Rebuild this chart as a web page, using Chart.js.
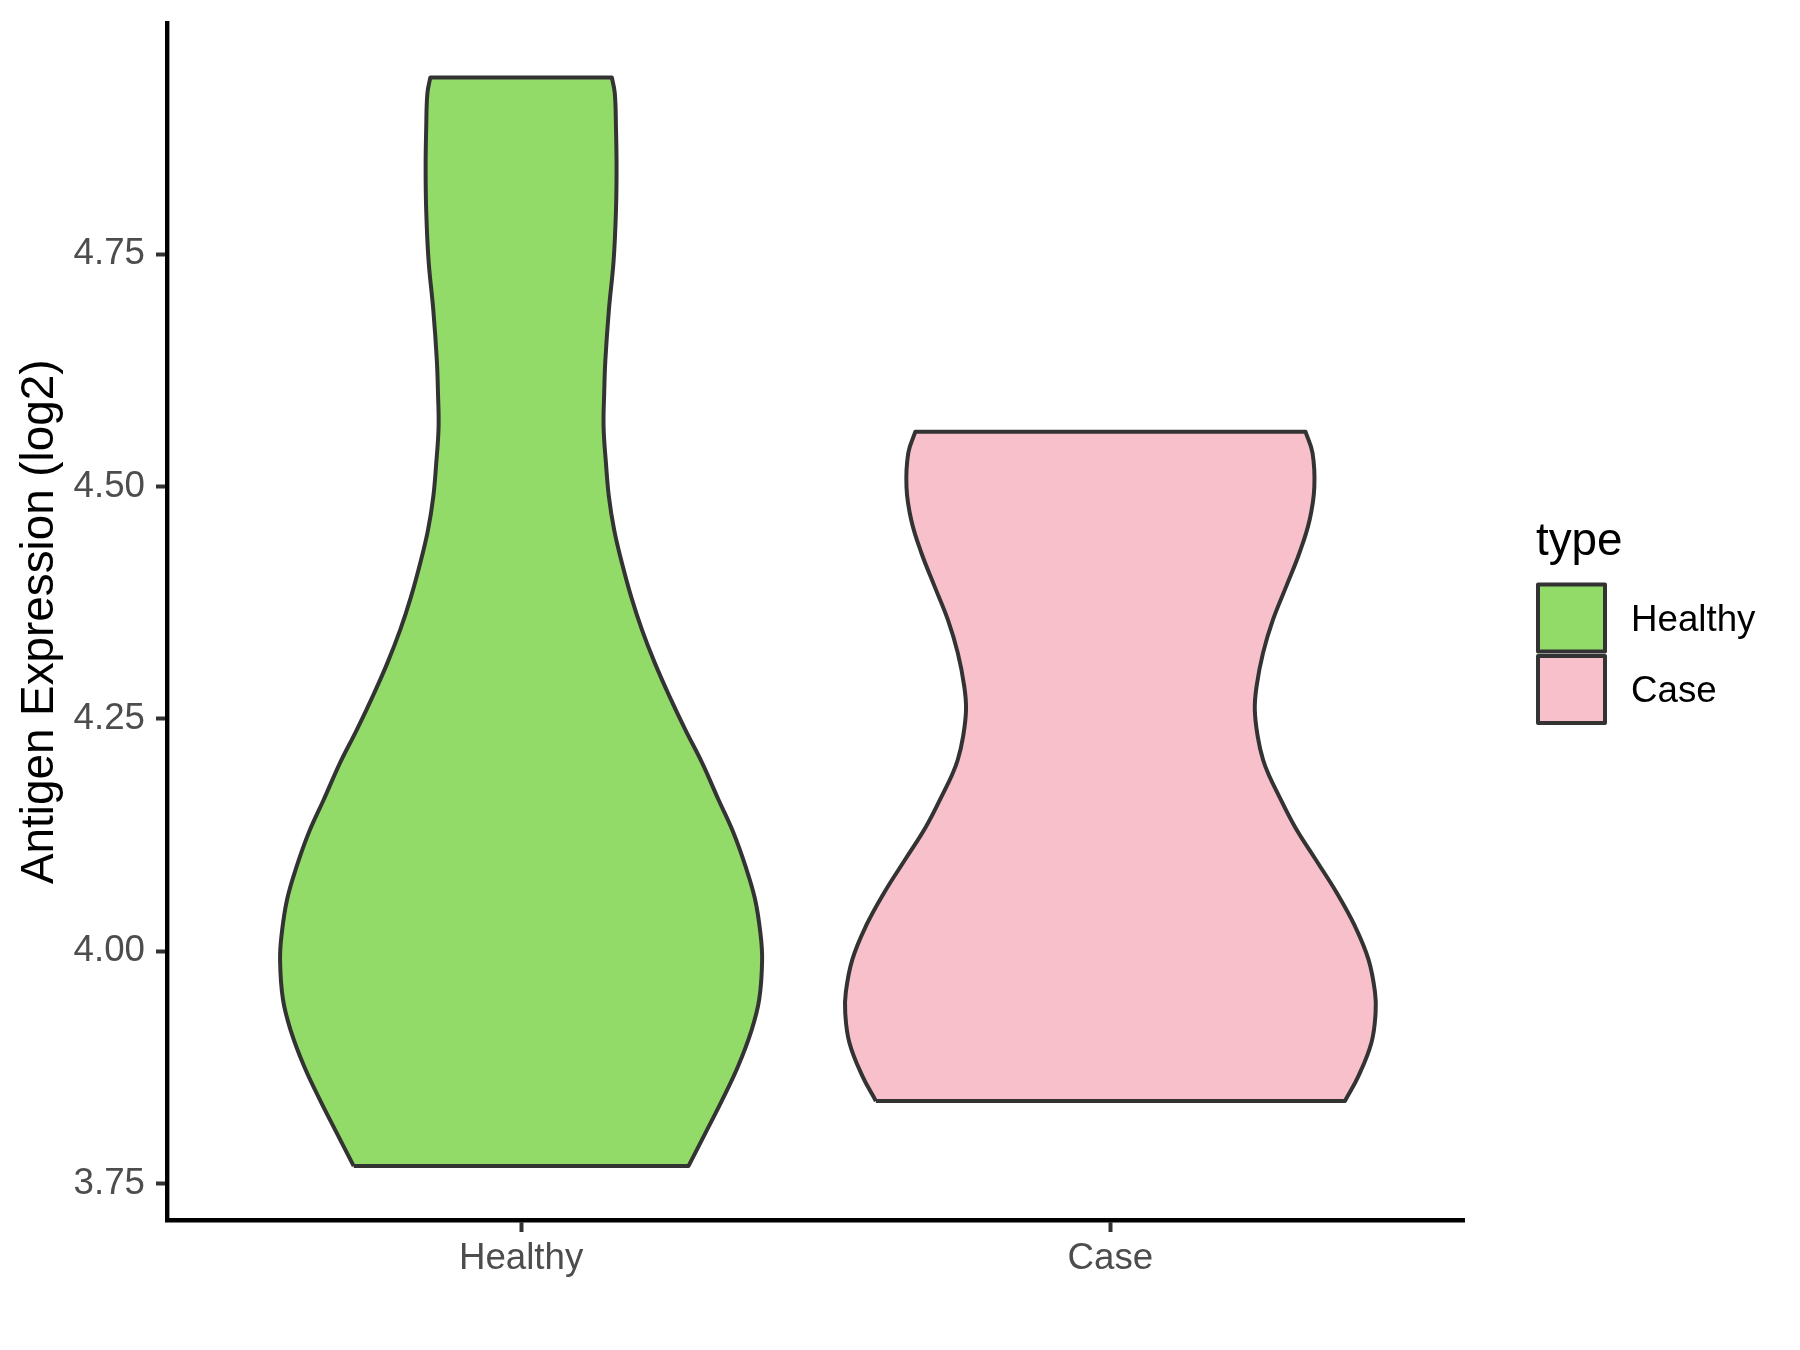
<!DOCTYPE html>
<html>
<head>
<meta charset="utf-8">
<title>Antigen Expression violin</title>
<script src="https://cdn.jsdelivr.net/npm/chart.js@4.4.0/dist/chart.umd.min.js"></script>
<style>
  body { margin: 0; background: #ffffff; }
  canvas { display: block; }
</style>
</head>
<body>
<canvas id="violinChart" width="1800" height="1350"></canvas>
<script>
// categories + colours
var categories = ['Healthy', 'Case'];
var fillColors = ['#93DB69', '#F7C0CB'];
var yTicks = [3.75, 4.00, 4.25, 4.50, 4.75];

// violin outlines: expression level and half width (in category units)
var healthyY  = [3.769, 3.806, 3.841, 3.876, 3.913, 3.948, 3.991, 4.020, 4.056, 4.091, 4.128,
                 4.163, 4.203, 4.238, 4.274, 4.310, 4.346, 4.381, 4.418, 4.453, 4.489, 4.525,
                 4.564, 4.600, 4.636, 4.690, 4.743, 4.797, 4.843, 4.886, 4.923, 4.940];
var healthyHW = [0.284, 0.314, 0.342, 0.368, 0.390, 0.404, 0.409, 0.406, 0.397, 0.381, 0.360,
                 0.335, 0.307, 0.279, 0.252, 0.227, 0.205, 0.187, 0.171, 0.158, 0.149, 0.144,
                 0.140, 0.141, 0.143, 0.149, 0.157, 0.161, 0.162, 0.161, 0.159, 0.154];

var caseY  = [3.839, 3.866, 3.902, 3.934, 3.956, 3.991, 4.027, 4.063, 4.099, 4.134, 4.171, 4.188,
              4.206, 4.231, 4.260, 4.285, 4.321, 4.357, 4.392, 4.429, 4.464, 4.499, 4.536, 4.559];
var caseHW = [0.398, 0.421, 0.443, 0.450, 0.449, 0.438, 0.415, 0.384, 0.348, 0.313, 0.283, 0.270,
              0.259, 0.250, 0.245, 0.248, 0.259, 0.276, 0.298, 0.321, 0.338, 0.346, 0.343, 0.331];

var FONT = '"Liberation Sans", Arial, sans-serif';

// closed outline: up the left side, across the top, down the right side.
// corner points are doubled so the spline keeps the flat top/bottom straight
function violinPoints(pos, ys, hws) {
    var n = ys.length, pts = [];
    for (var i = 0; i < n; i++) pts.push({x: pos - hws[i], y: ys[i]});
    pts.push({x: pos - hws[n - 1], y: ys[n - 1]});
    pts.push({x: pos + hws[n - 1], y: ys[n - 1]});
    for (var j = n - 1; j >= 0; j--) pts.push({x: pos + hws[j], y: ys[j]});
    pts.push({x: pos + hws[0], y: ys[0]});
    pts.push({x: pos - hws[0], y: ys[0]});
    return pts;
}

// ggplot style 5% expansion of the y range
var allY = healthyY.concat(caseY);
var yLo = Math.min.apply(null, allY), yHi = Math.max.apply(null, allY);
var yPad = (yHi - yLo) * 0.05;

var datasets = [
    {label: 'Healthy', data: violinPoints(1, healthyY, healthyHW)},
    {label: 'Case', data: violinPoints(2, caseY, caseHW)}
].map(function (d, i) {
    d.showLine = true;
    d.fill = 'shape';
    d.backgroundColor = fillColors[i];
    d.borderColor = '#333333';
    d.borderWidth = 4;
    d.borderJoinStyle = 'round';
    d.pointRadius = 0;
    d.tension = 0.4;
    return d;
});

// legend drawn ggplot-like on the right
var typeLegend = {
    id: 'typeLegend',
    afterDraw: function (chart) {
        var ctx = chart.ctx;
        ctx.save();
        ctx.fillStyle = '#000000';
        ctx.font = '45.8px ' + FONT;
        ctx.textBaseline = 'alphabetic';
        ctx.textAlign = 'left';
        ctx.fillText('type', 1536, 555);
        for (var i = 0; i < categories.length; i++) {
            var top = 584.5 + i * 71.5;
            ctx.fillStyle = fillColors[i];
            ctx.fillRect(1538, top, 67, 67);
            ctx.lineWidth = 4;
            ctx.lineJoin = 'round';
            ctx.strokeStyle = '#333333';
            ctx.strokeRect(1538, top, 67, 67);
            ctx.fillStyle = '#000000';
            ctx.font = '36.7px ' + FONT;
            ctx.fillText(categories[i], 1631, 630.7 + i * 71);
        }
        ctx.restore();
    }
};

new Chart(document.getElementById('violinChart'), {
    type: 'scatter',
    data: {datasets: datasets},
    plugins: [typeLegend],
    options: {
        responsive: false,
        animation: false,
        devicePixelRatio: 1,
        layout: {padding: {left: 0, top: 23, right: 1800 - 1464, bottom: 0}},
        plugins: {legend: {display: false}, tooltip: {enabled: false}},
        scales: {
            x: {
                type: 'linear',
                min: 0.4,
                max: 2.6,
                afterBuildTicks: function (scale) {
                    scale.ticks = categories.map(function (c, i) { return {value: i + 1}; });
                },
                afterFit: function (scale) {
                    scale.height = 1350 - 1220.5;
                    scale.paddingLeft = 0;
                    scale.paddingRight = 0;
                },
                grid: {drawOnChartArea: false, drawTicks: true, tickLength: 11.5, tickColor: '#333333', tickWidth: 4},
                border: {display: true, color: '#000000', width: 4.4},
                ticks: {
                    autoSkip: false,
                    maxRotation: 0,
                    padding: 5,
                    color: '#4D4D4D',
                    font: {family: FONT, size: 36.7},
                    callback: function (v) { return categories[v - 1]; }
                }
            },
            y: {
                type: 'linear',
                min: yLo - yPad,
                max: yHi + yPad,
                afterBuildTicks: function (scale) {
                    scale.ticks = yTicks.map(function (v) { return {value: v}; });
                },
                afterFit: function (scale) {
                    scale.width = 167.5;
                    scale.paddingTop = 0;
                    scale.paddingBottom = 0;
                },
                grid: {drawOnChartArea: false, drawTicks: true, tickLength: 11.5, tickColor: '#333333', tickWidth: 4},
                border: {display: true, color: '#000000', width: 4.4},
                title: {
                    display: true,
                    text: 'Antigen Expression (log2)',
                    color: '#000000',
                    font: {family: FONT, size: 45.8},
                    padding: {top: 12.5, bottom: 0}
                },
                ticks: {
                    padding: 11,
                    color: '#4D4D4D',
                    font: {family: FONT, size: 36.7},
                    callback: function (v) { return v.toFixed(2); }
                }
            }
        }
    }
});
</script>
</body>
</html>
